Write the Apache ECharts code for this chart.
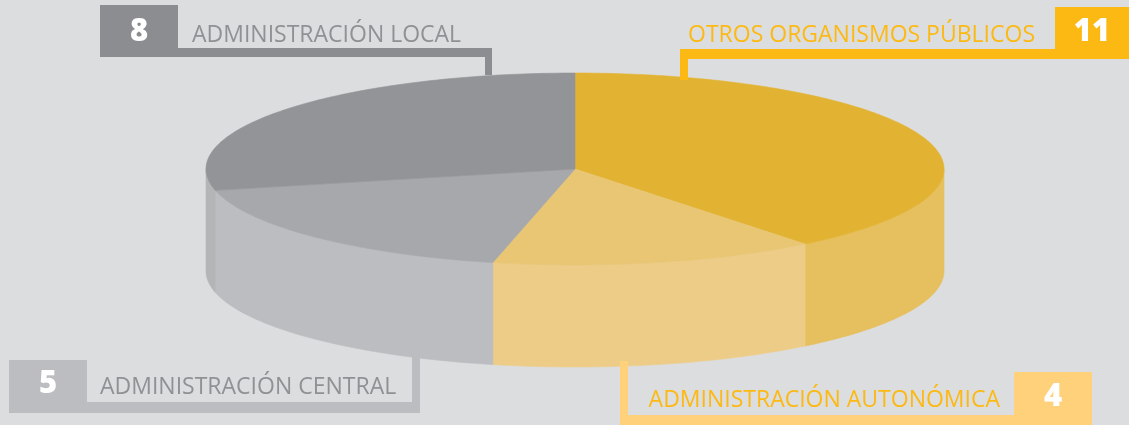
<!DOCTYPE html>
<html>
<head>
<meta charset="utf-8">
<script src="https://cdn.jsdelivr.net/npm/echarts@6/dist/echarts.min.js"></script>
<style>
  html, body { margin: 0; padding: 0; background: #dcdddf; }
  #chart { width: 1129px; height: 425px; }
</style>
</head>
<body>
<div id="chart"></div>
<script>
// datos (en sentido horario desde arriba)
const categories = ['OTROS ORGANISMOS PÚBLICOS', 'ADMINISTRACIÓN AUTONÓMICA', 'ADMINISTRACIÓN CENTRAL', 'ADMINISTRACIÓN LOCAL'];
const values = [11, 4, 5, 8];

// colores: cara superior, lateral, etiqueta, texto
const topColors = ['#e2b332', '#e9c673', '#a7a8ab', '#939497'];
const sideColors = ['#e6c05e', '#edcc88', '#bcbdc0', '#b4b5b7'];
const boxColors = ['#fdb913', '#fed17a', '#bcbdc0', '#8c8d90'];
const textColors = ['#fdb913', '#fdb913', '#909194', '#909194'];

// geometría del "pastel 3D"
const CX = 575, CY = 169, RX = 369, RY = 96, DEPTH = 102;

// posición de cada etiqueta (caja, barra, conector)
const labelLayout = [
  { box: [1055, 7, 74, 52], bar: [680, 49, 375, 10], stem: [680, 49, 8, 31], baseline: 42, textX: 1035, align: 'right' },
  { box: [1014, 372, 78, 53], bar: [620, 415, 394, 10], stem: [620, 361, 8, 64], baseline: 407, textX: 1000, align: 'right' },
  { box: [9, 360, 78, 53], bar: [87, 402, 333, 11], stem: [412, 356, 8, 57], baseline: 394, textX: 100, align: 'left' },
  { box: [100, 5, 78, 52], bar: [178, 48, 314, 9], stem: [485, 48, 7, 27], baseline: 42, textX: 192, align: 'left' }
];

const total = values.reduce((a, b) => a + b, 0);

function pt(theta, dy) {
  return [CX + RX * Math.sin(theta), CY - RY * Math.cos(theta) + (dy || 0)];
}

function arc(a, b, dy) {
  const pts = [];
  const n = Math.max(2, Math.ceil(Math.abs(b - a) / (Math.PI / 180)));
  for (let k = 0; k <= n; k++) {
    pts.push(pt(a + (b - a) * k / n, dy));
  }
  return pts;
}

function renderItem(params, api) {
  const i = params.dataIndex;
  let before = 0;
  for (let k = 0; k < i; k++) before += values[k];
  const start = before / total * Math.PI * 2;
  const end = start + api.value(0) / total * Math.PI * 2;
  const children = [];

  // lateral visible (mitad frontal)
  const a = Math.max(start, Math.PI / 2);
  const b = Math.min(end, Math.PI * 1.5);
  if (b > a) {
    const pts = arc(a, b, 0).concat(arc(b, a, DEPTH));
    children.push({
      type: 'polygon',
      shape: { points: pts },
      style: { fill: sideColors[i], stroke: sideColors[i], lineWidth: 0.6 }
    });
  }

  // cara superior
  children.push({
    type: 'polygon',
    shape: { points: [[CX, CY]].concat(arc(start, end, 0)) },
    style: { fill: topColors[i], stroke: topColors[i], lineWidth: 0.6 }
  });

  return { type: 'group', children: children };
}

function buildLabels() {
  const els = [];
  labelLayout.forEach(function (l, i) {
    els.push({ type: 'rect', shape: { x: l.bar[0], y: l.bar[1], width: l.bar[2], height: l.bar[3] }, style: { fill: boxColors[i] }, z: 10 });
    els.push({ type: 'rect', shape: { x: l.stem[0], y: l.stem[1], width: l.stem[2], height: l.stem[3] }, style: { fill: boxColors[i] }, z: 10 });
    els.push({ type: 'rect', shape: { x: l.box[0], y: l.box[1], width: l.box[2], height: l.box[3] }, style: { fill: boxColors[i] }, z: 10 });
    els.push({
      type: 'text', z: 11,
      style: {
        text: String(values[i]), x: l.box[0] + l.box[2] / 2, y: l.baseline - 10,
        fill: '#ffffff', font: '800 31px "Open Sans", sans-serif',
        textAlign: 'center', textVerticalAlign: 'middle'
      }
    });
    els.push({
      type: 'text', z: 11,
      style: {
        text: categories[i], x: l.textX, y: l.baseline - 7,
        fill: textColors[i], font: '23px "Open Sans", sans-serif',
        textAlign: l.align, textVerticalAlign: 'middle'
      }
    });
  });
  return els;
}

const chart = echarts.init(document.getElementById('chart'));
chart.setOption({
  backgroundColor: '#dcdddf',
  animation: false,
  graphic: buildLabels(),
  series: [{
    type: 'custom',
    coordinateSystem: 'none',
    renderItem: renderItem,
    data: values
  }]
});
</script>
</body>
</html>
